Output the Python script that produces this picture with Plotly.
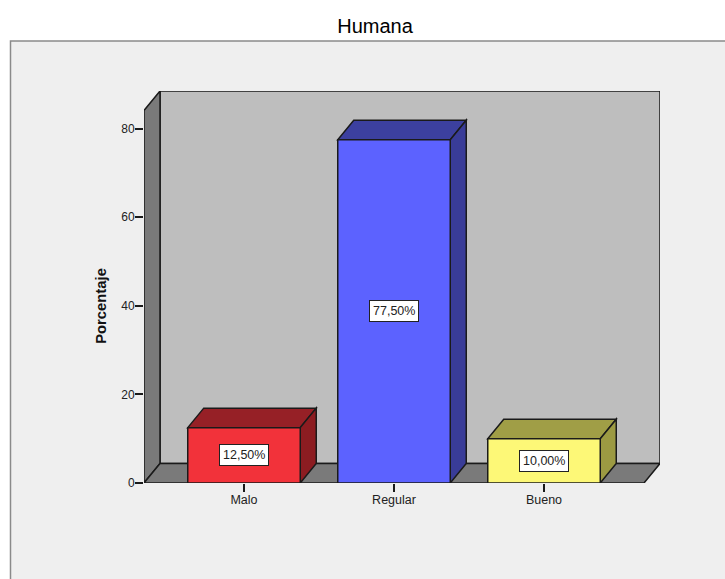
import plotly.graph_objects as go

# Chart content
categories = ["Malo", "Regular", "Bueno"]
percentages = [12.5, 77.5, 10.0]
y_ticks = [0, 20, 40, 60, 80]
front_colors = ["#F2323A", "#5C62FF", "#FDF877"]
top_colors = ["#962026", "#3C409F", "#A09E46"]
side_colors = ["#8C1C21", "#393C98", "#9C9A42"]

# Page layout, in pixels
WIDTH, HEIGHT = 725, 579
LEFT, RIGHT, TOP, BOTTOM = 144, 660, 91, 483
PX_PER_CAT = 150.0
PX_PER_PCT = 4.43

x_range = [-100 / PX_PER_CAT, (RIGHT - 244) / PX_PER_CAT]
y_range = [0, (BOTTOM - TOP) / PX_PER_PCT]

# Oblique depth of the box, in axis units
DX = 16 / PX_PER_CAT
DY = 19.5 / PX_PER_PCT
BAR_WIDTH = 0.75
FRONT_RIGHT = x_range[1] - DX
LINE = "#1a1a1a"


def polygon(points):
    return "M " + " L ".join(f"{x} {y}" for x, y in points) + " Z"


def face(points, fill, width=1.5):
    return dict(type="path", xref="x", yref="y", layer="below", path=polygon(points),
                fillcolor=fill, line=dict(color=LINE, width=width))


def paper_x(px):
    return (px - LEFT) / (RIGHT - LEFT)


def paper_y(px):
    return (BOTTOM - px) / (BOTTOM - TOP)


# Surrounding panel
shapes = [dict(type="rect", xref="paper", yref="paper", layer="below",
               x0=paper_x(10.5), x1=paper_x(WIDTH + 10),
               y0=paper_y(HEIGHT + 10), y1=paper_y(41),
               fillcolor="#EFEFEF", line=dict(color="#8a8a8a", width=1.5))]

# Back wall, side wall and floor
y_top = y_range[1]
shapes += [
    face([(x_range[0] + DX, DY), (x_range[1], DY), (x_range[1], y_top), (x_range[0] + DX, y_top)], "#BEBEBE"),
    face([(x_range[0], 0), (x_range[0] + DX, DY), (x_range[0] + DX, y_top), (x_range[0], y_top - DY)], "#7A7A7A"),
    face([(x_range[0], 0), (FRONT_RIGHT, 0), (x_range[1], DY), (x_range[0] + DX, DY)], "#7A7A7A"),
]

# Top and side faces of each bar
for i, v in enumerate(percentages):
    x0, x1 = i - BAR_WIDTH / 2, i + BAR_WIDTH / 2
    shapes.append(face([(x0, v), (x1, v), (x1 + DX, v + DY), (x0 + DX, v + DY)], top_colors[i]))
    shapes.append(face([(x1, 0), (x1 + DX, DY), (x1 + DX, v + DY), (x1, v)], side_colors[i]))

fig = go.Figure(go.Bar(
    x=list(range(len(categories))), y=percentages, width=BAR_WIDTH,
    marker=dict(color=front_colors, line=dict(color=LINE, width=1.5)),
    hoverinfo="skip",
))

# Boxed value labels at mid height of each bar
annotations = [
    dict(x=i, y=v / 2, xref="x", yref="y", text=f"{v:.2f}%".replace(".", ","),
         showarrow=False, bgcolor="white", bordercolor="#222222", borderwidth=1, borderpad=3,
         font=dict(family="Liberation Sans, Arial", size=12.5, color="#222222"))
    for i, v in enumerate(percentages)
]
annotations.append(dict(
    x=paper_x(101), y=40, xref="paper", yref="y", text="<b>Porcentaje</b>", textangle=-90,
    showarrow=False, xanchor="center", yanchor="middle",
    font=dict(family="Liberation Sans, Arial", size=14.8, color="#111111"),
))

fig.update_layout(
    width=WIDTH, height=HEIGHT,
    margin=dict(l=LEFT, r=WIDTH - RIGHT, t=TOP, b=HEIGHT - BOTTOM, pad=0),
    paper_bgcolor="white", plot_bgcolor="rgba(0,0,0,0)",
    showlegend=False,
    font=dict(family="Liberation Sans, Arial", size=12, color="#222222"),
    title=dict(text="Humana", x=375 / WIDTH, xanchor="center", y=1 - 26 / HEIGHT, yanchor="middle",
               font=dict(family="Liberation Sans, Arial", size=20, color="#000000")),
    xaxis=dict(range=x_range, tickmode="array", tickvals=list(range(len(categories))), ticktext=categories,
               ticks="outside", ticklen=8, tickwidth=1.5, tickcolor=LINE, showgrid=False, zeroline=False,
               showline=False, tickfont=dict(size=12.5), ticklabelstandoff=-3),
    yaxis=dict(range=y_range, tickmode="array", tickvals=y_ticks, ticks="outside", ticklen=8, tickwidth=1.5,
               tickcolor=LINE, showgrid=False, zeroline=False, showline=False, tickfont=dict(size=12),
               ticklabelstandoff=-2),
    shapes=shapes, annotations=annotations,
)

fig.write_html("out.html", config=dict(displayModeBar=False))
